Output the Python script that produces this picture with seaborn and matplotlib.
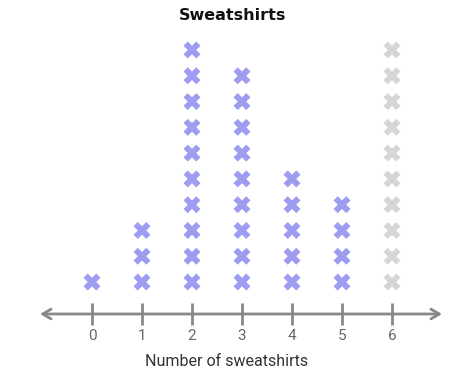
import matplotlib
matplotlib.use("Agg")
import matplotlib.pyplot as plt
import seaborn as sns
import pandas as pd

values = [0, 1, 2, 3, 4, 5, 6]
counts = [1, 3, 10, 9, 5, 4, 10]
highlight = [False, False, False, False, False, False, True]
tick_labels = ["0", "1", "2", "3", "4", "5", "6"]
title = "Sweatshirts"
xlabel = "Number of sweatshirts"

rows = []
for v, c, h in zip(values, counts, highlight):
    for k in range(1, c + 1):
        rows.append({"value": v, "level": k, "grp": "grey" if h else "main"})
df = pd.DataFrame(rows)

sns.set_style("white")
plt.rcParams["font.family"] = ["Roboto", "DejaVu Sans"]

fig = plt.figure(figsize=(4.53, 3.8), dpi=100)
ax = fig.add_axes([0, 0, 1, 1])

sns.scatterplot(data=df, x="value", y="level", hue="grp",
                palette={"main": "#9e9cf0", "grey": "#d6d6d6"},
                marker="X", s=150, linewidth=0, legend=False, ax=ax)

ax.set_xlim(-1.84, 7.22)
ax.set_ylim(-2.80, 11.94)

axis_y = -0.24
for s in ["top", "right", "left"]:
    ax.spines[s].set_visible(False)
ax.spines["bottom"].set_position(("data", axis_y))
ax.spines["bottom"].set_visible(False)
ax.annotate("", xy=(-1.04, axis_y), xytext=(7.0, axis_y),
            arrowprops=dict(arrowstyle="<->,head_length=0.6,head_width=0.35",
                            color="#888888", lw=2, shrinkA=0, shrinkB=0))
ax.set_xticks(values)
ax.set_xticklabels(tick_labels)
ax.set_yticks([])
ax.tick_params(axis="x", direction="inout", length=16, width=2, color="#888888",
               labelcolor="#666666", labelsize=11, pad=3, bottom=True)
ax.set_xlabel("")
ax.set_ylabel("")
ax.text(0.5, 1 - 362 / 380, xlabel, transform=ax.transAxes, ha="center", va="center",
        fontsize=11.5, color="#333333")
ax.text(233 / 453, 1 - 16 / 380, title, transform=ax.transAxes, ha="center", va="center",
        fontsize=11.5, fontweight="bold", color="#111111", family=["DejaVu Sans"])

fig.savefig("out.png", dpi=100)
